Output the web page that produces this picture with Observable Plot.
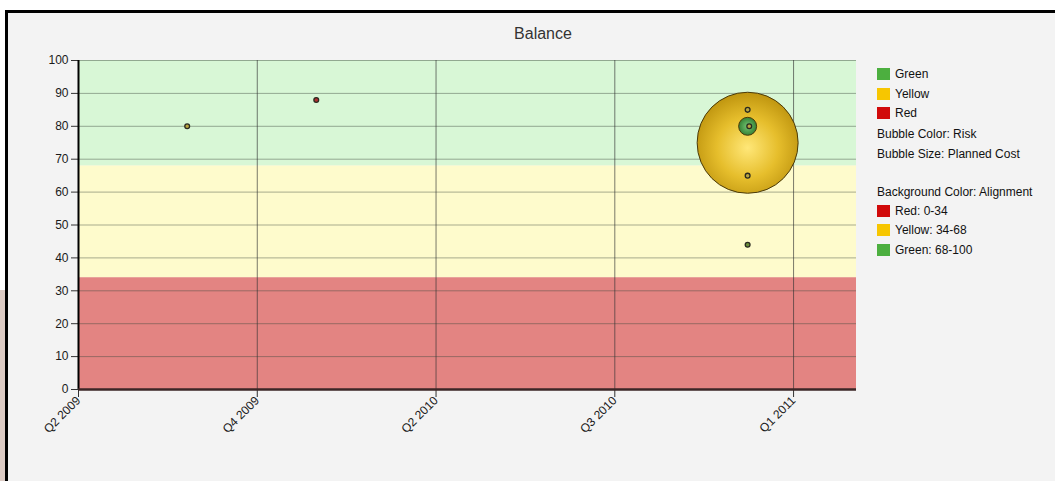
<!DOCTYPE html>
<html><head><meta charset="utf-8">
<script src="https://cdn.jsdelivr.net/npm/d3@7"></script>
<script src="https://cdn.jsdelivr.net/npm/@observablehq/plot@0.6"></script>
<style>
body{margin:0;background:#fff;font-family:"Liberation Sans",Arial,sans-serif;}
#wrap{position:relative;width:1055px;height:481px;overflow:hidden;}
#edge{position:absolute;left:0;top:290px;width:5px;height:191px;background:#dccbc4;}
#frame{position:absolute;left:5px;top:10px;width:1060px;height:480px;border-left:3px solid #000;border-top:3px solid #000;background:#f3f3f3;}
#title{position:absolute;left:443px;width:200px;top:25px;text-align:center;font-size:16px;color:#333;}
#chart{position:absolute;left:0;top:0;}
.lg{position:absolute;left:877px;font-size:12px;color:#111;line-height:14px;white-space:nowrap;}
.sw{display:inline-block;width:13px;height:12px;vertical-align:-2px;margin-right:5px;}
</style></head>
<body>
<div id="wrap">
  <div id="edge"></div>
  <div id="frame"></div>
  <div id="title">Balance</div>
  <div id="chart"></div>
  <div id="legend"></div>
</div>
<script>
// x axis: evenly spaced tick positions with their labels
const xTickPos = [0, 1, 2, 3, 4];
const xTickLabels = ["Q2 2009", "Q4 2009", "Q2 2010", "Q3 2010", "Q1 2011"];
const xDomain = [0, 4.352];
const yTicks = [0, 10, 20, 30, 40, 50, 60, 70, 80, 90, 100];

// background alignment bands
const bandName = ["Red", "Yellow", "Green"];
const bandLow = [0, 34, 68];
const bandHigh = [34, 68, 100];
const bandFill = ["#e38482", "#fefbcc", "#d8f7d6"];

// bubbles
const pX    = [3.743, 3.743, 0.608, 1.33, 3.743, 3.752, 3.743, 3.743];
const pY    = [75, 80, 80, 88, 85, 80, 65, 44];
const pRisk = ["Yellow", "Green", "Yellow", "Red", "Yellow", "Yellow", "Yellow", "Green"];
const pCost = [2550, 81, 6, 6, 6, 6, 6, 6];

// legend
const riskNames = ["Green", "Yellow", "Red"];
const riskColor = {Green: "#4caf3f", Yellow: "#f7c600", Red: "#d10a0a"};
const dotFill = {Green: "#6b8f3a", Yellow: "#b9a640", Red: "#b03030"};
const gradOf = {Green: "url(#gGreen)", Yellow: "url(#gYellow)", Red: "url(#gRed)"};
const alignLegend = ["Red: 0-34", "Yellow: 34-68", "Green: 68-100"];

const bands = bandName.map((n, i) => ({n, lo: bandLow[i], hi: bandHigh[i], fill: bandFill[i]}));
const pts = pX.map((x, i) => ({x, y: pY[i], risk: pRisk[i], cost: pCost[i]}));

const svg = Plot.plot({
  width: 1055, height: 481,
  marginLeft: 78, marginRight: 199, marginTop: 60, marginBottom: 92,
  style: {background: "transparent", fontFamily: "'Liberation Sans', Arial, sans-serif", fontSize: "12px", color: "#222"},
  x: {domain: xDomain, ticks: xTickPos, tickFormat: i => xTickLabels[i], label: null},
  y: {domain: [0, 100], ticks: yTicks, label: null},
  r: {type: "sqrt", domain: [0, 2500], range: [0, 50]},
  color: {type: "identity"},
  marks: [
    Plot.rect(bands, {x1: () => xDomain[0], x2: () => xDomain[1], y1: "lo", y2: "hi", fill: "fill"}),
    Plot.gridY({ticks: yTicks, stroke: "#3d4a3d", strokeOpacity: 0.45}),
    Plot.gridX({ticks: xTickPos, stroke: "#333", strokeOpacity: 0.65}),
    Plot.axisY({ticks: yTicks, tickSize: 7, tickPadding: 3, stroke: "#333", fill: "#1a1a1a"}),
    Plot.axisX({ticks: xTickPos, tickFormat: i => xTickLabels[i], tickSize: 8, tickPadding: 1, tickRotate: -45, stroke: "#333", fill: "#1a1a1a"}),
    Plot.ruleX([xDomain[0]], {stroke: "#000", strokeWidth: 2}),
    Plot.ruleY([0], {stroke: "#3b2626", strokeWidth: 2.5}),
    Plot.dot(pts, {filter: d => d.cost > 20, x: "x", y: "y", r: "cost", fill: d => gradOf[d.risk], stroke: "#4a3a0a", strokeWidth: 1}),
    Plot.dot(pts, {filter: d => d.cost <= 20, x: "x", y: "y", r: 2.4, fill: d => dotFill[d.risk], stroke: "#2a2a20", strokeWidth: 1.3})
  ]
});

const defs = d3.select(svg).insert("defs", ":first-child");
function grad(id, stops, cy) {
  const g = defs.append("radialGradient").attr("id", id).attr("cx", "50%").attr("cy", cy).attr("r", "55%");
  stops.forEach(([o, c]) => g.append("stop").attr("offset", o).attr("stop-color", c));
}
grad("gYellow", [["0%", "#ffe778"], ["55%", "#e6be2c"], ["100%", "#bf950f"]], "55%");
grad("gGreen", [["0%", "#74c674"], ["100%", "#2f7a2f"]], "50%");
grad("gRed", [["0%", "#f06060"], ["100%", "#a01010"]], "50%");
document.getElementById("chart").appendChild(svg);

// legend
const lg = document.getElementById("legend");
function row(top, html) {
  const d = document.createElement("div");
  d.className = "lg"; d.style.top = top + "px"; d.innerHTML = html; lg.appendChild(d);
}
const riskTops = [67, 87, 106];
riskNames.forEach((n, i) => row(riskTops[i], `<span class="sw" style="background:${riskColor[n]}"></span>${n}`));
row(127, "Bubble Color: Risk");
row(147, "Bubble Size: Planned Cost");
row(185, "Background Color: Alignment");
const alignTops = [204, 223, 243];
const alignColors = [riskColor.Red, riskColor.Yellow, riskColor.Green];
alignLegend.forEach((t, i) => row(alignTops[i], `<span class="sw" style="background:${alignColors[i]}"></span>${t}`));
</script>
</body></html>
